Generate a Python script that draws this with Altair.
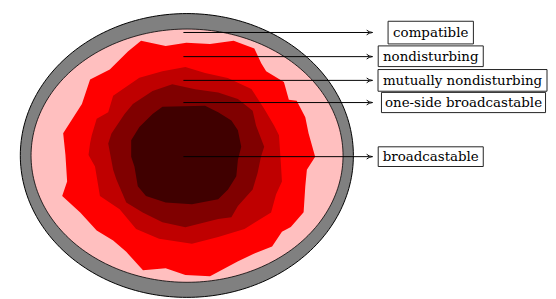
import altair as alt
import pandas as pd
import numpy as np

# ---- data -------------------------------------------------------------
labels = ["compatible", "nondisturbing", "mutually nondisturbing",
          "one-side broadcastable", "broadcastable"]
arrow_y = [30.7, 55.2, 79.3, 101.8, 156.7]
arrow_x_start = [178, 178, 178, 178, 178]
arrow_x_end = [370, 370, 370, 370, 370]
box_x1 = [385.7, 375.7, 375.5, 379.0, 375.7]
box_x2 = [472.3, 482.3, 547.0, 545.5, 482.3]
box_y1 = [19.3, 44.3, 68.3, 91.5, 146.7]
box_y2 = [42.3, 65.3, 90.3, 112.0, 166.7]

# ellipses: centre x, centre y, radius x, radius y
outer_ellipse = [181.5, 155.5, 169.0, 144.0]
inner_ellipse = [181.7, 155.7, 158.3, 128.5]

red_x = [135, 160, 181, 205, 229, 250, 257, 262, 280, 285, 293, 301.7, 305,
         311.7, 303.3, 301.7, 300, 287, 278, 268, 250, 233, 205, 180, 160, 137,
         120, 106.7, 90, 73.3, 55, 60, 58.3, 56, 75, 83.3, 103.3, 121.7]
red_y = [39, 44.5, 41, 42.5, 39, 47, 62, 70, 81, 99, 100, 116.7, 133,
         156.7, 170, 186.7, 213, 228, 233, 248, 255, 263, 278, 276.7, 270, 272,
         253.3, 241.7, 231.7, 213.3, 196.7, 182, 155, 133, 103.3, 78.3, 68.3, 50]

dred_x = [180, 200, 223, 247, 260, 270, 275, 277, 278, 272, 267, 240, 213.3,
          186.7, 153.3, 130, 113.3, 93.3, 88.3, 81.7, 83.3, 85, 90, 101.7,
          106.7, 133.3, 156.7]
dred_y = [65.7, 71.7, 77, 88, 108, 125, 135, 165, 182, 195, 213.3, 230, 238.3,
          245, 240, 230, 210, 196.7, 166.7, 155, 143, 135, 118.3, 111.7,
          95, 76.7, 70]

ddred_x = [166.7, 190, 213.3, 233.3, 248.3, 251.7, 260, 256.7, 253.3, 248.3,
           233.3, 226.7, 213.3, 180, 156.7, 136.7, 120, 110, 106.7, 101.7, 105,
           118.3, 126.7, 146.7]
ddred_y = [83.3, 88.3, 91.7, 98.3, 110, 125, 146.7, 156.7, 173.3, 190, 206.7,
           218.3, 220, 228.3, 223.3, 213.3, 203.3, 180, 170, 143.3, 133.3,
           113.3, 103.3, 90]

dark_x = [156.7, 200, 213.3, 226.7, 233.3, 236.7, 233.3, 231.7, 223.3, 213.3,
          186.7, 160, 140, 131.7, 128.3, 125, 125, 133.3, 146.7]
dark_y = [106, 105, 111.7, 120, 130, 146.7, 160, 176.7, 190, 200, 205, 203.3,
          196.7, 186.7, 166.7, 156.7, 140, 126.7, 113.3]

colors = ["#808080", "#FFBFBF", "#FF0000", "#BF0000", "#800000", "#400000"]

# ---- scales ------------------------------------------------------------
xsc = alt.Scale(domain=[0, 548], nice=False, zero=False)
ysc = alt.Scale(domain=[8, 299], nice=False, zero=False, reverse=True)


def ellipse_pts(e, n=240):
    t = np.linspace(0, 2 * np.pi, n + 1)
    return list(e[0] + e[2] * np.cos(t)), list(e[1] + e[3] * np.sin(t))


def poly(xs, ys, fill, stroke=None, sw=0.0):
    xs = list(xs) + [xs[0]]
    ys = list(ys) + [ys[0]]
    df = pd.DataFrame({"x": xs, "y": ys, "i": list(range(len(xs)))})
    return alt.Chart(df).mark_line(
        fill=fill, stroke=stroke if stroke else fill, strokeWidth=sw,
        interpolate="linear"
    ).encode(
        x=alt.X("x:Q", scale=xsc, axis=None),
        y=alt.Y("y:Q", scale=ysc, axis=None),
        order="i:Q",
    )


ox, oy = ellipse_pts(outer_ellipse)
ix, iy = ellipse_pts(inner_ellipse)

layers = [
    poly(ox, oy, colors[0], "black", 1.0),
    poly(ix, iy, colors[1], "black", 0.8),
    poly(red_x, red_y, colors[2]),
    poly(dred_x, dred_y, colors[3]),
    poly(ddred_x, ddred_y, colors[4]),
    poly(dark_x, dark_y, colors[5]),
]

ann = pd.DataFrame({
    "label": labels, "ay": arrow_y, "ax1": arrow_x_start, "ax2": arrow_x_end,
    "bx1": box_x1, "bx2": box_x2, "by1": box_y1, "by2": box_y2,
})
ann["cx"] = (ann.bx1 + ann.bx2) / 2
ann["cy"] = (ann.by1 + ann.by2) / 2
ann["tipx"] = ann.ax2 - 3

base = alt.Chart(ann)
arrows = base.mark_rule(color="black", strokeWidth=1).encode(
    x=alt.X("ax1:Q", scale=xsc, axis=None), x2="tipx:Q",
    y=alt.Y("ay:Q", scale=ysc, axis=None),
)
heads = base.mark_point(
    shape="M -1 -0.8 Q -0.3 -0.1 1 0 Q -0.3 0.1 -1 0.8",
    filled=False, stroke="black", strokeWidth=1, size=36, opacity=1,
).encode(
    x=alt.X("tipx:Q", scale=xsc, axis=None),
    y=alt.Y("ay:Q", scale=ysc, axis=None),
)
boxes = base.mark_rect(fill="white", stroke="#222222", strokeWidth=1).encode(
    x=alt.X("bx1:Q", scale=xsc, axis=None), x2="bx2:Q",
    y=alt.Y("by1:Q", scale=ysc, axis=None), y2="by2:Q",
)
texts = base.mark_text(
    font="DejaVu Serif", fontSize=13.6,
    color="black", align="center", baseline="middle", dy=0.5,
).encode(
    x=alt.X("cx:Q", scale=xsc, axis=None),
    y=alt.Y("cy:Q", scale=ysc, axis=None),
    text="label:N",
)

chart = alt.layer(*layers, arrows, heads, boxes, texts).properties(
    width=548, height=291, padding=0, autosize="none"
).configure_view(stroke=None)

chart.save("out.html", embed_options={"renderer": "svg", "actions": False})
